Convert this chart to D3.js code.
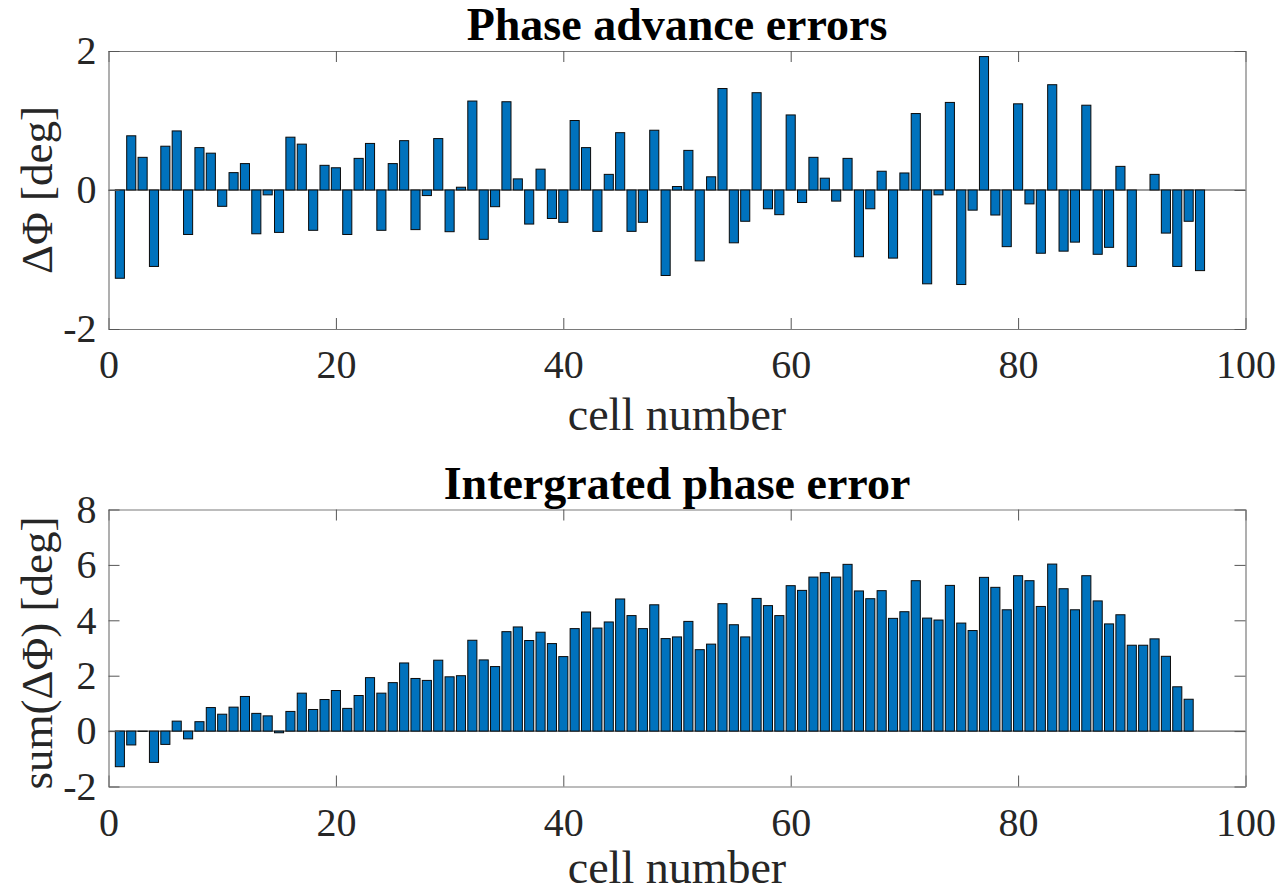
<!DOCTYPE html>
<html>
<head>
<meta charset="utf-8">
<script src="https://cdn.jsdelivr.net/npm/d3@7"></script>
<style>
  html, body { margin: 0; padding: 0; background: #ffffff; }
  svg { display: block; }
  text { font-family: "Liberation Serif", "Times New Roman", serif; }
</style>
</head>
<body>
<svg id="chart" width="1282" height="891"></svg>
<script>
// ---------- data ----------
const cells = d3.range(1, 97);

const phaseAdvanceErrors = [
  -1.27, 0.78, 0.47, -1.10, 0.63, 0.85, -0.64, 0.61, 0.53, -0.235,
  0.25, 0.38, -0.63, -0.07, -0.61, 0.76, 0.66, -0.58, 0.355, 0.32,
  -0.64, 0.455, 0.67, -0.58, 0.38, 0.71, -0.57, -0.08, 0.74, -0.60,
  0.04, 1.28, -0.71, -0.24, 1.27, 0.16, -0.49, 0.30, -0.41, -0.465,
  1.00, 0.61, -0.595, 0.225, 0.825, -0.595, -0.465, 0.86, -1.23, 0.05,
  0.57, -1.02, 0.19, 1.46, -0.76, -0.45, 1.40, -0.27, -0.355, 1.08,
  -0.18, 0.47, 0.17, -0.16, 0.455, -0.96, -0.27, 0.27, -0.98, 0.245,
  1.10, -1.35, -0.07, 1.26, -1.36, -0.29, 1.92, -0.36, -0.815, 1.24,
  -0.20, -0.91, 1.515, -0.88, -0.75, 1.22, -0.925, -0.825, 0.34, -1.10,
  0.00, 0.225, -0.62, -1.10, -0.45, -1.16
];

const integratedPhaseError = [
  -1.285, -0.50, -0.01, -1.13, -0.48, 0.36, -0.28, 0.34, 0.85, 0.61,
  0.865, 1.25, 0.64, 0.55, -0.06, 0.71, 1.37, 0.78, 1.14, 1.465,
  0.82, 1.285, 1.93, 1.37, 1.75, 2.46, 1.90, 1.83, 2.56, 1.96,
  2.00, 3.28, 2.57, 2.33, 3.59, 3.76, 3.27, 3.57, 3.16, 2.69,
  3.70, 4.30, 3.72, 3.94, 4.77, 4.17, 3.70, 4.56, 3.34, 3.40,
  3.96, 2.94, 3.14, 4.60, 3.84, 3.40, 4.79, 4.53, 4.17, 5.25,
  5.08, 5.56, 5.72, 5.56, 6.02, 5.06, 4.78, 5.07, 4.07, 4.31,
  5.43, 4.08, 4.01, 5.26, 3.90, 3.63, 5.55, 5.19, 4.38, 5.61,
  5.43, 4.50, 6.03, 5.14, 4.38, 5.61, 4.70, 3.87, 4.20, 3.10,
  3.10, 3.33, 2.70, 1.60, 1.15, 0.00
];

const xTicks = [0, 20, 40, 60, 80, 100];
const yTicksTop = [-2, 0, 2];
const yTicksBottom = [-2, 0, 2, 4, 6, 8];

const titles = ["Phase advance errors", "Intergrated phase error"];
const xLabel = "cell number";
const yLabels = ["\u0394\u03A6 [deg]", "sum(\u0394\u03A6) [deg]"];

// ---------- drawing ----------
const svg = d3.select("#chart");
svg.append("rect").attr("width", 1282).attr("height", 891).attr("fill", "#ffffff");

const left = 108.5, right = 1245.5;
const panels = [
  { top: 51, bottom: 329, values: phaseAdvanceErrors, yDomain: [-2, 2], yTicks: yTicksTop,
    title: titles[0], yLabel: yLabels[0], xLabelOffset: 101, yLabelShift: 0 },
  { top: 509.5, bottom: 786.5, values: integratedPhaseError, yDomain: [-2, 8], yTicks: yTicksBottom,
    title: titles[1], yLabel: yLabels[1], xLabelOffset: 96, yLabelShift: 5 }
];

const axisColor = "#7a7a7a";
const textColor = "#262626";
const tickLen = 11;
const fmt = d => String(d);   // plain hyphen-minus, as in the reference

panels.forEach(p => {
  const x = d3.scaleLinear().domain([0, 100]).range([left, right]);
  const y = d3.scaleLinear().domain(p.yDomain).range([p.bottom, p.top]);
  const g = svg.append("g");

  // baseline
  g.append("line")
    .attr("x1", left).attr("x2", right)
    .attr("y1", y(0)).attr("y2", y(0))
    .attr("stroke", "#3a3a3a").attr("stroke-width", 1);

  // bars
  const bw = (x(0.8) - x(0));
  g.selectAll("rect.bar")
    .data(cells.map((c, i) => ({ c, v: p.values[i] })))
    .join("rect")
    .attr("class", "bar")
    .attr("x", d => x(d.c) - bw / 2)
    .attr("width", bw)
    .attr("y", d => Math.min(y(d.v), y(0)))
    .attr("height", d => Math.abs(y(d.v) - y(0)))
    .attr("fill", "#0072BD")
    .attr("stroke", "#0a0a0a")
    .attr("stroke-width", 1);

  // axes
  const styleAxis = sel => {
    sel.select(".domain").attr("stroke", axisColor).attr("stroke-width", 1.2);
    sel.selectAll(".tick line").attr("stroke", "#555").attr("stroke-width", 1);
    sel.selectAll(".tick text").attr("fill", textColor)
      .style("font-family", '"Liberation Serif", serif').style("font-size", "40px");
  };

  const xb = g.append("g").attr("transform", `translate(0,${p.bottom})`)
    .call(d3.axisBottom(x).tickValues(xTicks).tickSizeInner(-tickLen).tickSizeOuter(0).tickPadding(21)
      .tickFormat(fmt));
  styleAxis(xb);

  const xt = g.append("g").attr("transform", `translate(0,${p.top})`)
    .call(d3.axisTop(x).tickValues(xTicks).tickSizeInner(-tickLen).tickSizeOuter(0).tickFormat(""));
  styleAxis(xt);

  const yl = g.append("g").attr("transform", `translate(${left},0)`)
    .call(d3.axisLeft(y).tickValues(p.yTicks).tickSizeInner(-tickLen).tickSizeOuter(0).tickPadding(12)
      .tickFormat(fmt));
  styleAxis(yl);

  const yr = g.append("g").attr("transform", `translate(${right},0)`)
    .call(d3.axisRight(y).tickValues(p.yTicks).tickSizeInner(-tickLen).tickSizeOuter(0).tickFormat(""));
  styleAxis(yr);

  // title
  svg.append("text")
    .attr("x", (left + right) / 2).attr("y", p.top - 11)
    .attr("text-anchor", "middle")
    .attr("font-weight", "bold").attr("font-size", 46)
    .attr("fill", "#000")
    .text(p.title);

  // x label
  svg.append("text")
    .attr("x", (left + right) / 2).attr("y", p.bottom + p.xLabelOffset)
    .attr("text-anchor", "middle")
    .attr("font-size", 46)
    .attr("fill", textColor)
    .text(xLabel);

  // y label
  svg.append("text")
    .attr("transform", `translate(52,${(p.top + p.bottom) / 2 + p.yLabelShift}) rotate(-90)`)
    .attr("text-anchor", "middle")
    .attr("font-size", 45)
    .attr("fill", textColor)
    .text(p.yLabel);
});
</script>
</body>
</html>
